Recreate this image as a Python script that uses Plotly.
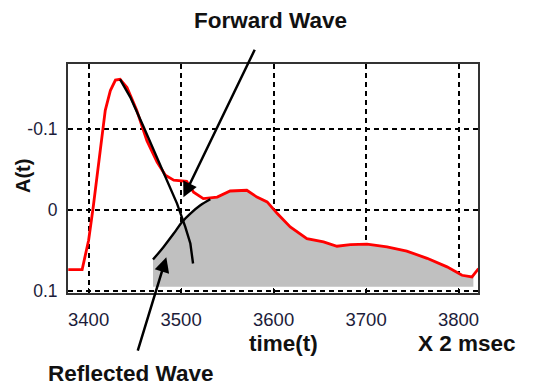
import plotly.graph_objects as go

# ---- data ----
time_red = [3378, 3393, 3400, 3405, 3412.6, 3418, 3423.5, 3429, 3434, 3441.5, 3452, 3463, 3474,
            3483, 3492, 3506, 3513.5, 3524, 3539, 3553, 3571, 3582, 3593, 3604, 3618, 3636,
            3654, 3668.5, 3683, 3701, 3722.6, 3744, 3766, 3787.5, 3803.7, 3814.5, 3821.6]
amp_red = [0.074, 0.074, 0.0375, -0.004, -0.074, -0.1235, -0.148, -0.161, -0.162, -0.152, -0.1235,
           -0.086, -0.0595, -0.043, -0.037, -0.0356, -0.022, -0.014, -0.016, -0.0235, -0.0244,
           -0.016, -0.010, 0.0045, 0.021, 0.0355, 0.0396, 0.045, 0.043, 0.0425, 0.0458, 0.051,
           0.060, 0.0706, 0.081, 0.083, 0.0727]

time_fwd = [3434, 3445, 3459.5, 3474, 3484.8, 3495.6, 3504.5, 3510, 3512.9]
amp_fwd = [-0.162, -0.140, -0.103, -0.0657, -0.0368, -0.0079, 0.021, 0.0416, 0.0664]

time_refl = [3469.6, 3481, 3492, 3501, 3510, 3520.8, 3531.6]
amp_refl = [0.0615, 0.0458, 0.0293, 0.0149, 0.0045, -0.0058, -0.0133]

fill_base = 0.0954
fill_end_time = 3816

x_ticks = [3400, 3500, 3600, 3700, 3800]
y_ticks = [-0.1, 0, 0.1]
y_ticktext = ["-0.1", "0", "0.1"]

# ---- gray reflected area polygon ----
poly_x = list(time_refl)
poly_y = list(amp_refl)
for t, a in zip(time_red, amp_red):
    if time_refl[-1] < t <= fill_end_time:
        poly_x.append(t)
        poly_y.append(a)
poly_x += [fill_end_time, fill_end_time, time_refl[0], time_refl[0]]
poly_y += [poly_y[-1], fill_base, fill_base, amp_refl[0]]

fig = go.Figure()
fig.add_trace(go.Scatter(x=poly_x, y=poly_y, fill="toself", fillcolor="#c0c0c0",
                         line=dict(width=0), mode="lines", hoverinfo="skip"))
fig.add_trace(go.Scatter(x=time_red, y=amp_red, mode="lines",
                         line=dict(color="#ff0000", width=2.8)))
fig.add_trace(go.Scatter(x=time_fwd, y=amp_fwd, mode="lines",
                         line=dict(color="black", width=2.4)))
fig.add_trace(go.Scatter(x=time_refl, y=amp_refl, mode="lines", line_shape="spline",
                         line=dict(color="black", width=2.4)))

L, R, T, B = 68, 63, 64, 92
W, H = 541, 385
pw, ph = W - L - R, H - T - B


def paper(xp, yp):
    return (xp - L) / pw, (H - B - yp) / ph


bold = dict(family="Arial, Liberation Sans, sans-serif", size=22.5, color="#111")
annotations = []
for text, (xp, yp), extra in [
    ("Forward Wave", (270, 21), {}),
    ("Reflected Wave", (130, 373), {}),
    ("time(t)", (283, 343), {}),
    ("X 2 msec", (467, 343), {}),
    ("A(t)", (22.5, 176.5), {"textangle": -90, "font": dict(bold, size=20)}),
]:
    px_, py_ = paper(xp, yp)
    a = dict(text="<b>%s</b>" % text, x=px_, y=py_, xref="paper", yref="paper",
             showarrow=False, xanchor="center", yanchor="middle", font=bold)
    a.update(extra)
    annotations.append(a)

# arrows (head at data point, tail given as pixel offset)
annotations.append(dict(x=3502.5, y=-0.0157, xref="x", yref="y", text="", showarrow=True,
                        ax=72, ay=-149, arrowhead=2, arrowsize=1.2, arrowwidth=2.5,
                        arrowcolor="black"))
annotations.append(dict(x=3484, y=0.0586, xref="x", yref="y", text="", showarrow=True,
                        ax=-29, ay=95, arrowhead=2, arrowsize=1.2, arrowwidth=2.5,
                        arrowcolor="black"))

axis_common = dict(showline=True, mirror=True, linecolor="#333", linewidth=2,
                   showgrid=True, gridcolor="black", gridwidth=1.5, griddash="5px,4px",
                   zeroline=False)

fig.update_layout(
    width=W, height=H, autosize=False,
    margin=dict(l=L, r=R, t=T, b=B),
    paper_bgcolor="white", plot_bgcolor="white",
    showlegend=False,
    annotations=annotations,
    xaxis=dict(axis_common, range=[3377.7, 3821], tickvals=x_ticks,
               ticks="inside", ticklen=5, tickcolor="black", ticklabelstandoff=9,
               tickfont=dict(family="Arial, Liberation Sans, sans-serif", size=18.5,
                             color="#1c1c3a")),
    yaxis=dict(axis_common, range=[0.103, -0.181], tickvals=y_ticks, ticktext=y_ticktext,
               ticks="", ticklabelstandoff=5,
               tickfont=dict(family="Arial, Liberation Sans, sans-serif", size=17.5,
                             color="#1c1c3a")),
)

fig.write_html("out.html")
